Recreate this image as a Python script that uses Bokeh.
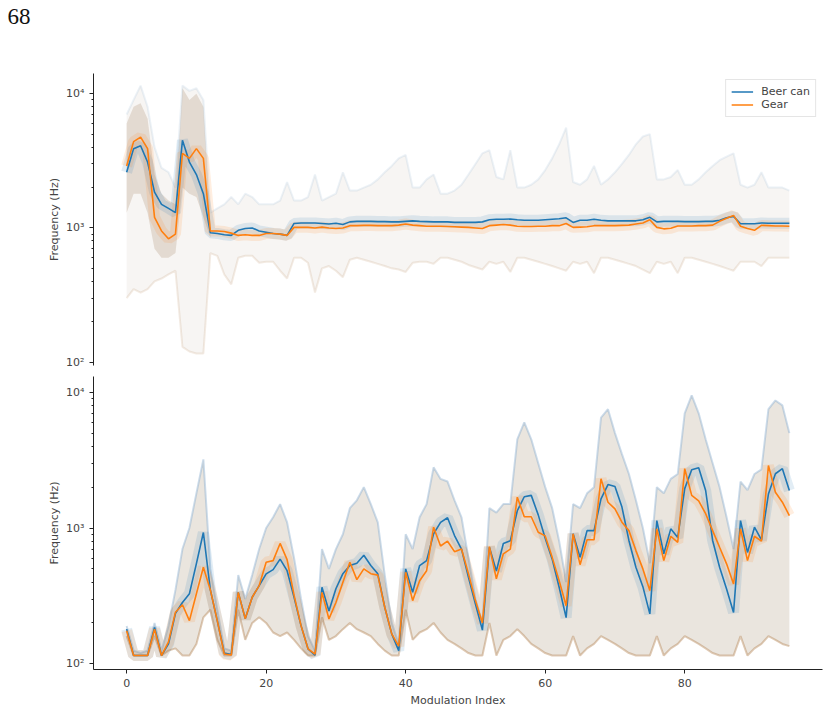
import numpy as np
from bokeh.plotting import figure
from bokeh.layouts import column
from bokeh.models import (Range1d, FixedTicker, Legend, LegendItem,
                          ColumnDataSource)
from bokeh.core.properties import value
from bokeh.embed import file_html
from bokeh.resources import INLINE

# ---------------------------------------------------------------- data
modulation_index = list(range(96))

# upper panel: mean frequency per modulation index (Hz)
beer_top = [2600, 3900, 4100, 3100, 1850, 1500, 1400, 1300, 4500, 3100, 2500, 1800,
            920, 910, 890, 880, 960, 990, 1000, 950, 930, 910, 900, 880,
            1080, 1090, 1090, 1090, 1080, 1070, 1085, 1060, 1110, 1120, 1120, 1120,
            1115, 1115, 1110, 1110, 1120, 1130, 1120, 1115, 1110, 1110, 1110, 1100,
            1100, 1100, 1100, 1110, 1150, 1160, 1160, 1165, 1150, 1140, 1140, 1140,
            1150, 1160, 1170, 1190, 1100, 1140, 1140, 1160, 1140, 1130, 1130, 1130,
            1130, 1130, 1150, 1200, 1110, 1120, 1120, 1120, 1115, 1115, 1115, 1120,
            1120, 1140, 1190, 1220, 1075, 1075, 1075, 1090, 1085, 1085, 1085, 1085]
gear_top = [2900, 4400, 4750, 3900, 1200, 950, 830, 900, 3600, 3300, 3900, 3300,
            950, 950, 940, 915, 880, 890, 880, 880, 910, 910, 900, 880,
            1010, 1010, 1010, 1000, 1015, 1000, 990, 1000, 1040, 1040, 1045, 1045,
            1040, 1040, 1040, 1050, 1070, 1050, 1040, 1030, 1030, 1030, 1025, 1020,
            1015, 1010, 1000, 990, 1040, 1050, 1060, 1050, 1030, 1025, 1025, 1030,
            1030, 1040, 1040, 1080, 1010, 1015, 1020, 1040, 1040, 1040, 1040, 1045,
            1050, 1070, 1090, 1150, 1010, 985, 995, 1035, 1035, 1035, 1040, 1040,
            1050, 1120, 1180, 1240, 1030, 990, 960, 1045, 1040, 1035, 1035, 1030]
# spread of the individual recordings (upper panel)
top_high = [7000, 9000, 11500, 8000, 4000, 2800, 2600, 2000, 11500, 10500, 11000, 9000,
            1300, 1400, 1500, 1700, 1500, 1800, 1700, 1500, 1500, 1500, 1600, 2200,
            1600, 1600, 1700, 2500, 1600, 1700, 1800, 2600, 1900, 1900, 2000, 2100,
            2300, 2600, 2900, 3300, 3500, 2000, 2000, 2300, 2500, 1800, 1800, 1900,
            2100, 2500, 3000, 3600, 3800, 2400, 2300, 3800, 2000, 2000, 2100, 2300,
            2700, 3300, 4200, 5600, 2200, 2100, 2300, 2900, 2100, 2300, 2600, 3000,
            3500, 4200, 4800, 5000, 2300, 2300, 2400, 2700, 2100, 2100, 2300, 2600,
            2900, 3200, 3400, 3600, 2100, 2000, 2100, 2600, 2000, 2000, 2000, 1900]
top_low = [300, 350, 330, 350, 400, 420, 450, 480, 130, 120, 116, 116,
           650, 620, 450, 380, 600, 620, 620, 550, 560, 560, 480, 420,
           600, 600, 550, 330, 500, 520, 480, 430, 580, 600, 580, 560,
           540, 520, 500, 490, 470, 550, 560, 560, 540, 600, 600, 580,
           560, 530, 510, 490, 560, 540, 560, 470, 600, 600, 580, 560,
           540, 520, 500, 480, 560, 540, 560, 460, 600, 600, 580, 560,
           540, 520, 490, 460, 560, 540, 560, 460, 600, 600, 580, 560,
           540, 520, 500, 480, 560, 560, 560, 520, 600, 600, 600, 600]
# where most recordings sit during the opening modulations (upper panel)
core_index = list(range(13))
core_high = [6000, 8000, 8500, 6500, 2500, 1800, 1600, 1500, 11000, 9000, 10000, 8000, 1100]
core_low = [1300, 1800, 1800, 1300, 700, 600, 600, 650, 2000, 1800, 1700, 1200, 850]

# lower panel: mean frequency per modulation index (Hz)
beer_bot = [180, 115, 115, 115, 185, 115, 140, 235, 283, 328, 547, 927,
            350, 207, 120, 117, 336, 215, 309, 377, 460, 494, 590, 485,
            309, 191, 129, 116, 366, 245, 357, 461, 529, 550, 630, 529,
            460, 261, 166, 125, 500, 336, 529, 575, 906, 1100, 1190, 880,
            700, 433, 276, 177, 721, 482, 770, 805, 1340, 1700, 1740, 1250,
            840, 590, 366, 219, 906, 608, 957, 957, 1640, 2090, 2024, 1426,
            810, 514, 370, 233, 1135, 646, 986, 852, 1950, 2690, 2780, 1890,
            810, 514, 355, 239, 1135, 661, 1014, 819, 1780, 2510, 2735, 1890]
gear_bot = [175, 115, 115, 115, 180, 115, 145, 240, 272, 208, 328, 514,
            350, 207, 118, 116, 336, 215, 309, 377, 560, 575, 770, 585,
            320, 191, 129, 118, 336, 214, 283, 398, 560, 417, 500, 461,
            450, 261, 166, 135, 472, 292, 409, 485, 1014, 737, 800, 670,
            700, 461, 292, 200, 730, 423, 646, 700, 1686, 1210, 1210, 931,
            875, 608, 409, 268, 906, 537, 819, 819, 2306, 1549, 1384, 1104,
            957, 682, 500, 346, 986, 575, 870, 785, 2735, 1740, 1587, 1274,
            957, 721, 545, 387, 986, 575, 870, 800, 2885, 1836, 1549, 1236]
# spread of the individual recordings (lower panel)
bot_high = [190, 125, 120, 125, 200, 125, 190, 350, 700, 1000, 1800, 3200,
            500, 250, 130, 125, 450, 300, 450, 700, 1000, 1200, 1500, 1100,
            600, 300, 160, 125, 700, 500, 700, 900, 1400, 1600, 2000, 1500,
            1100, 450, 200, 140, 900, 700, 1200, 1500, 2800, 2300, 2200, 1600,
            1200, 600, 300, 200, 1400, 1300, 1500, 1500, 4500, 6000, 4500, 3000,
            2000, 1400, 800, 400, 1500, 1400, 1800, 2000, 6500, 7500, 5000, 3500,
            2500, 1600, 1000, 550, 2000, 1800, 2300, 2500, 7000, 9500, 7000, 4500,
            3000, 2000, 1200, 700, 2200, 1900, 2500, 2700, 7500, 8700, 8000, 5000]
bot_low = [160, 115, 115, 115, 160, 115, 125, 130, 115, 115, 140, 220,
           250, 150, 115, 115, 250, 150, 200, 220, 200, 170, 160, 170,
           150, 130, 115, 115, 220, 150, 160, 180, 200, 180, 170, 160,
           140, 125, 115, 115, 250, 150, 170, 180, 200, 170, 150, 140,
           130, 120, 115, 115, 200, 115, 150, 160, 180, 160, 140, 130,
           120, 115, 115, 115, 160, 115, 130, 140, 160, 150, 140, 130,
           120, 115, 115, 115, 160, 115, 130, 140, 160, 150, 140, 130,
           120, 115, 115, 115, 160, 115, 130, 140, 160, 150, 140, 135]

y_ticks = [100, 1000, 10000]
y_tick_labels = ["10\u00b2", "10\u00b3", "10\u2074"]
x_ticks = [0, 20, 40, 60, 80]
series_names = ["Beer can", "Gear"]
page_number = "68"

# ---------------------------------------------------------------- style
BLUE = "#1f77b4"
ORANGE = "#ff7f0e"
FONT = "DejaVu Sans"
W = 829
LEFT, RIGHT = 93, 7
minor = [m * 10 ** e for e in (2, 3) for m in range(2, 10)]


def make_panel(height, top, bottom, y_lo, y_hi, show_x):
    p = figure(width=W, height=height, y_axis_type="log",
               x_range=Range1d(-4.75, 99.75), y_range=Range1d(y_lo, y_hi),
               output_backend="svg", toolbar_location=None,
               min_border_left=LEFT, min_border_right=RIGHT,
               min_border_top=top, min_border_bottom=bottom)
    p.outline_line_color = None
    p.grid.visible = False
    p.background_fill_color = "white"
    p.border_fill_color = "white"
    ax = p.yaxis[0]
    ax.ticker = FixedTicker(ticks=y_ticks, minor_ticks=minor)
    ax.major_label_overrides = dict(zip(y_ticks, y_tick_labels))
    ax.axis_label = "Frequency (Hz)"
    ax.axis_label_text_font = FONT
    ax.axis_label_text_font_size = "11px"
    ax.axis_label_text_font_style = "normal"
    ax.axis_label_standoff = 2
    ax.major_label_text_font = FONT
    ax.major_label_text_font_size = "11px"
    ax.axis_line_color = "#222222"
    ax.major_tick_line_color = "#222222"
    ax.minor_tick_line_color = "#222222"
    ax.major_tick_out = 4
    ax.major_tick_in = 0
    ax.minor_tick_out = 2
    ax.minor_tick_in = 0
    xa = p.xaxis[0]
    if show_x:
        xa.ticker = FixedTicker(ticks=x_ticks, minor_ticks=[])
        xa.axis_label = "Modulation Index"
        xa.axis_label_text_font = FONT
        xa.axis_label_text_font_size = "11px"
        xa.axis_label_text_font_style = "normal"
        xa.axis_label_standoff = 4
        xa.major_label_text_font = FONT
        xa.major_label_text_font_size = "11px"
        xa.axis_line_color = "#222222"
        xa.major_tick_line_color = "#222222"
        xa.major_tick_out = 4
        xa.major_tick_in = 0
    else:
        xa.visible = False
    return p


def draw(p, beer, gear, high, low, band_alpha, edge_alpha, core=None):
    src = ColumnDataSource(dict(x=modulation_index, beer=beer, gear=gear,
                                high=high, low=low))
    # cloud of individual recordings
    p.varea(x="x", y1="low", y2="high", source=src, fill_color=BLUE,
            fill_alpha=band_alpha)
    p.varea(x="x", y1="low", y2="high", source=src, fill_color=ORANGE,
            fill_alpha=band_alpha)
    if core is not None:
        cx, chi, clo = core
        p.varea(x=cx, y1=clo, y2=chi, fill_color=BLUE, fill_alpha=0.10)
        p.varea(x=cx, y1=clo, y2=chi, fill_color=ORANGE, fill_alpha=0.12)
    p.line("x", "high", source=src, line_color="#7fa8cc", line_alpha=edge_alpha,
           line_width=2)
    p.line("x", "low", source=src, line_color="#b07a45", line_alpha=edge_alpha,
           line_width=2)
    # dense core around the class means
    p.line("x", "beer", source=src, line_color=BLUE, line_alpha=0.13, line_width=11)
    p.line("x", "gear", source=src, line_color=ORANGE, line_alpha=0.13, line_width=11)
    # class means
    rb = p.line("x", "beer", source=src, line_color=BLUE, line_width=1.6)
    rg = p.line("x", "gear", source=src, line_color=ORANGE, line_width=1.6)
    return rb, rg


# header strip carrying the page number (kept out of the frame alignment)
head = figure(width=W, height=40, x_range=Range1d(0, W), y_range=Range1d(0, 40),
              output_backend="svg", toolbar_location=None,
              min_border=0, min_border_left=0, min_border_right=0,
              min_border_top=0, min_border_bottom=0)
head.frame_align = False
head.axis.visible = False
head.grid.visible = False
head.outline_line_color = None
head.text(x=[7], y=[24], text=[page_number], text_font=value("Liberation Serif"),
          text_font_size="23px", text_color="#111111", text_baseline="alphabetic")

top = make_panel(330, 33, 5, 10 ** 1.975, 10 ** 4.151, False)
rb, rg = draw(top, beer_top, gear_top, top_high, top_low, 0.035, 0.15,
              core=(core_index, core_high, core_low))

bot = make_panel(340, 6, 41, 10 ** 1.958, 10 ** 4.116, True)
draw(bot, beer_bot, gear_bot, bot_high, bot_low, 0.10, 0.4)

legend = Legend(items=[LegendItem(label=series_names[0], renderers=[rb]),
                       LegendItem(label=series_names[1], renderers=[rg])],
                location="top_right", margin=6, padding=5, spacing=0,
                glyph_width=22, glyph_height=13, label_standoff=8,
                label_height=13,
                label_text_font=FONT, label_text_font_size="11px",
                border_line_color="#cccccc", background_fill_alpha=0.8)
top.add_layout(legend)

layout = column(head, top, bot, spacing=0)
open("out.html", "w").write(file_html(layout, INLINE))
